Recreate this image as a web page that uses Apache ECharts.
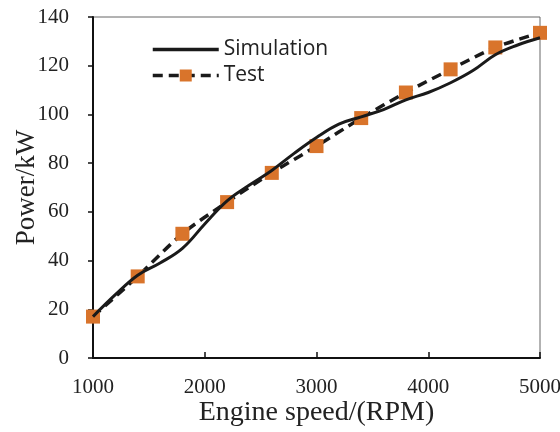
<!DOCTYPE html>
<html>
<head>
<meta charset="utf-8">
<script src="https://cdn.jsdelivr.net/npm/echarts@6/dist/echarts.min.js"></script>
<style>
  html, body { margin: 0; padding: 0; background: #fff; }
  #chart { width: 560px; height: 432px; }
</style>
</head>
<body>
<div id="chart"></div>
<script>
// engine speed (RPM)
var simSpeed = [1000, 1200, 1400, 1600, 1800, 2000, 2200, 2400, 2600, 2800, 3000,
                3200, 3400, 3600, 3800, 4000, 4200, 4400, 4600, 4800, 5000];
var simPower = [17, 26, 34, 39, 45, 55, 64.5, 71, 77, 84, 90.5,
                96, 99, 102, 106, 109, 113, 118, 124.5, 128.5, 131.5];

var testSpeed = [1000, 1400, 1800, 2200, 2600, 3000, 3400, 3800, 4200, 4600, 5000];
var testPower = [17, 33.5, 51, 64, 76, 87, 98.5, 109, 118.5, 127.5, 133.5];

function pairs(xs, ys) {
  return xs.map(function (x, i) { return [x, ys[i]]; });
}

var serif = '"Liberation Serif", "Times New Roman", serif';
var sans = '"Open Sans", "Noto Sans", sans-serif';

var myChart = echarts.init(document.getElementById('chart'));

myChart.setOption({
  animation: false,
  backgroundColor: '#fff',
  grid: {
    left: 93, right: 20, top: 17, bottom: 74,
    outerBoundsMode: 'none',
    containLabel: false,
    show: true, borderColor: '#666', borderWidth: 1
  },
  legend: {
    orient: 'vertical',
    left: 146, top: 34,
    itemWidth: 66, itemHeight: 15, itemGap: 5,
    lineStyle: { width: 3.5 },
    textStyle: { fontFamily: sans, fontSize: 21, color: '#222' },
    data: ['Simulation', 'Test']
  },
  xAxis: {
    type: 'value',
    min: 1000, max: 5000, interval: 1000,
    name: 'Engine speed/(RPM)',
    nameLocation: 'middle', nameGap: 41,
    nameMoveOverlap: false,
    nameTextStyle: { fontFamily: serif, fontSize: 28, color: '#222' },
    axisLine: { lineStyle: { color: '#111', width: 2 } },
    axisTick: { inside: true, length: 6, lineStyle: { color: '#111', width: 1.5 } },
    axisLabel: {
      fontFamily: serif, fontSize: 21, color: '#222', margin: 19,
      formatter: function (v) { return String(v); }
    },
    splitLine: { show: false }
  },
  yAxis: {
    type: 'value',
    min: 0, max: 140, interval: 20,
    name: 'Power/kW',
    nameLocation: 'middle', nameGap: 53,
    nameMoveOverlap: false,
    nameTextStyle: { fontFamily: serif, fontSize: 27, color: '#222' },
    axisLine: { show: true, lineStyle: { color: '#111', width: 2 } },
    axisTick: { show: true, inside: false, length: 5, lineStyle: { color: '#111', width: 1.5 } },
    axisLabel: { fontFamily: serif, fontSize: 21, color: '#222', margin: 24 },
    splitLine: { show: false }
  },
  series: [
    {
      name: 'Simulation',
      type: 'line',
      smooth: 0.4,
      symbol: 'circle',
      showSymbol: false,
      lineStyle: { color: '#1a1a1a', width: 3 },
      itemStyle: { color: 'rgba(0,0,0,0)', borderWidth: 0 },
      data: pairs(simSpeed, simPower)
    },
    {
      name: 'Test',
      type: 'line',
      smooth: 0.3,
      symbol: 'rect',
      symbolSize: 14,
      lineStyle: { color: '#1a1a1a', width: 3.5, type: [10, 6] },
      itemStyle: { color: '#D9742B' },
      z: 1,
      data: pairs(testSpeed, testPower)
    }
  ]
});
</script>
</body>
</html>
